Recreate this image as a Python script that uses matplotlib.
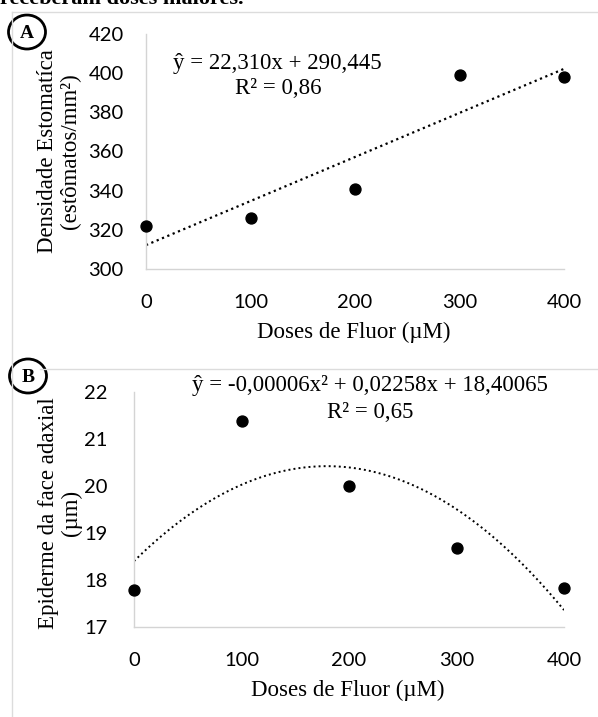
import numpy as np
import matplotlib
matplotlib.use("Agg")
import matplotlib.pyplot as plt
from matplotlib.lines import Line2D
from matplotlib.patches import Ellipse

# data
doses = [0, 100, 200, 300, 400]
densidade = [322, 326, 341, 399, 398]
epiderme = [17.79, 21.38, 20.0, 18.68, 17.84]

eq_a = ["ŷ = 22,310x + 290,445", "R² = 0,86"]
eq_b = ["ŷ = -0,00006x² + 0,02258x + 18,40065", "R² = 0,65"]

W, H = 598, 717
fig = plt.figure(figsize=(W / 100, H / 100), dpi=100)
fig.patch.set_facecolor("white")

SERIF = "Liberation Serif"
SANS = "Lato"
GRID = "#d4d4d4"
FS = 16.5


def px_axes(left, top, right, bottom):
    return fig.add_axes([left / W, 1 - bottom / H, (right - left) / W, (bottom - top) / H])


def ftext(x, y, s, **kw):
    # text placed in figure pixels (from top-left)
    kw.setdefault("fontfamily", SERIF)
    kw.setdefault("fontsize", FS)
    return fig.text(x / W, 1 - y / H, s, ha=kw.pop("ha", "center"),
                    va=kw.pop("va", "center"), **kw)


def style(ax, ylim, yticks, pad_y):
    ax.set_xlim(0, 400)
    ax.set_ylim(*ylim)
    ax.set_xticks(doses)
    ax.set_yticks(yticks)
    for s in ["top", "right"]:
        ax.spines[s].set_visible(False)
    for s in ["left", "bottom"]:
        ax.spines[s].set_color(GRID)
        ax.spines[s].set_linewidth(1.0)
    ax.tick_params(length=0, labelsize=14.5)
    ax.tick_params(axis="x", pad=18)
    ax.tick_params(axis="y", pad=pad_y)
    for lab in ax.get_xticklabels() + ax.get_yticklabels():
        lab.set_fontfamily(SANS)


# ---- panel A
axa = px_axes(146, 34, 564, 269)
style(axa, (300, 420), range(300, 421, 20), 16)
axa.scatter(doses, densidade, s=62, color="black", zorder=3, clip_on=False)
ka = np.polyfit(np.arange(1, 6), densidade, 1)
xa = np.linspace(0, 400, 100)
axa.plot(xa, np.polyval(ka, xa / 100 + 1), color="black", ls=(0, (1, 1.6)), lw=1.6)
ftext(354, 332, "Doses de Fluor (µM)")
ftext(59, 151, "Densidade Estomatíca\n(estômatos/mm²)", rotation=90, linespacing=1.15)
ftext(277, 63, eq_a[0])
ftext(278, 88, eq_a[1])

# ---- panel B
axb = px_axes(134, 392, 564, 627)
style(axb, (17, 22), range(17, 23), 19)
axb.scatter(doses, epiderme, s=62, color="black", zorder=3, clip_on=False)
kb = np.polyfit(doses, epiderme, 2)
xb = np.linspace(0, 400, 200)
axb.plot(xb, np.polyval(kb, xb), color="black", ls=(0, (1, 1.6)), lw=1.4)
ftext(348, 690, "Doses de Fluor (µM)")
ftext(60, 513, "Epiderme da face adaxial\n(µm)", rotation=90, linespacing=1.15)
ftext(370, 385, eq_b[0])
ftext(370, 413, eq_b[1])

# ---- frame lines and panel letters
for x0, y0, x1, y1 in [(12, 12, 598, 12), (12, 12, 12, 717), (40, 369, 598, 369)]:
    fig.add_artist(Line2D([x0 / W, x1 / W], [1 - y0 / H, 1 - y1 / H],
                          color="#dcdcdc", lw=1.0))

for letter, cx, cy in [("A", 27, 32), ("B", 28, 376)]:
    fig.add_artist(Ellipse((cx / W, 1 - cy / H), 37 / W, 34 / H,
                           transform=fig.transFigure, facecolor="white",
                           edgecolor="black", lw=2.0))
    ftext(cx, cy + 1, letter, fontweight="bold", fontsize=14)

# line of body text cut off by the top edge of the crop
ftext(0, 4, "receberam doses maiores.", ha="left", va="baseline",
      fontweight="bold", fontsize=16)

fig.savefig("out.png", dpi=100)
